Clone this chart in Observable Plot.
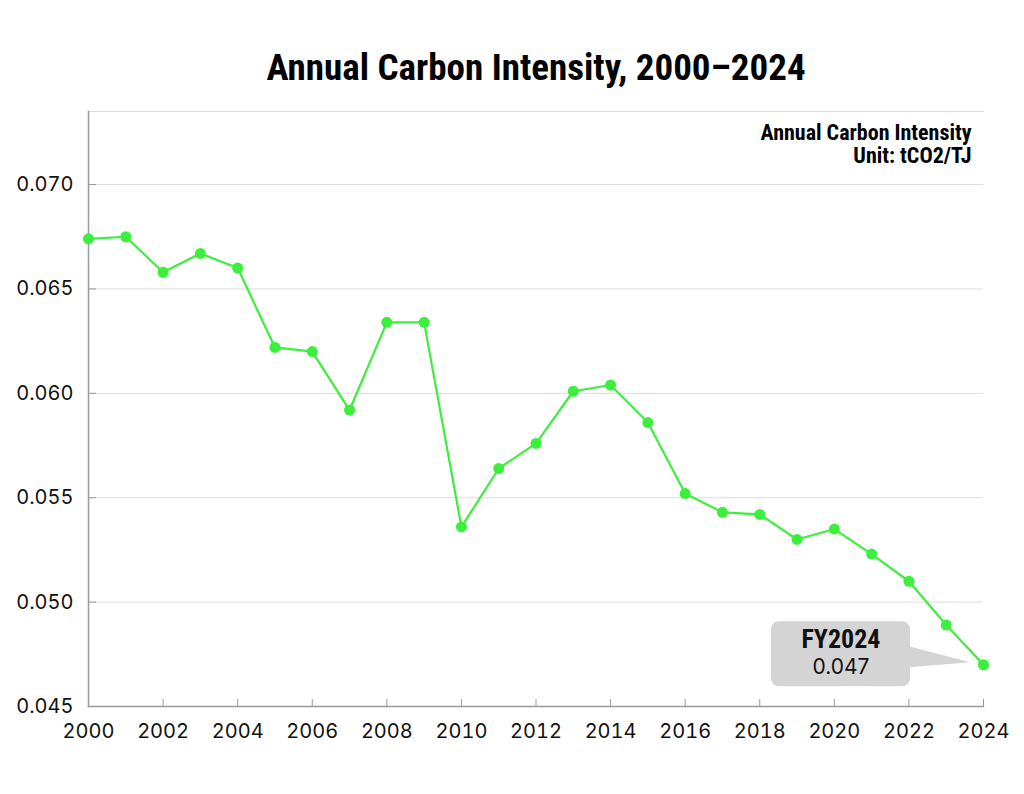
<!DOCTYPE html>
<html><head><meta charset="utf-8">
<script src="https://cdn.jsdelivr.net/npm/d3@7"></script>
<script src="https://cdn.jsdelivr.net/npm/@observablehq/plot@0.6"></script>
<style>
html,body{margin:0;padding:0;background:#fff;}
#chart svg{display:block;}
</style></head><body><div id="chart"></div>
<script>
const years = [2000, 2001, 2002, 2003, 2004, 2005, 2006, 2007, 2008, 2009, 2010, 2011, 2012,
               2013, 2014, 2015, 2016, 2017, 2018, 2019, 2020, 2021, 2022, 2023, 2024];
const values = [0.0674, 0.0675, 0.0658, 0.0667, 0.0660, 0.0622, 0.0620, 0.0592, 0.0634, 0.0634,
                0.0536, 0.0564, 0.0576, 0.0601, 0.0604, 0.0586, 0.0552, 0.0543, 0.0542, 0.0530,
                0.0535, 0.0523, 0.0510, 0.0489, 0.0470];
const xTicks = [2000, 2002, 2004, 2006, 2008, 2010, 2012, 2014, 2016, 2018, 2020, 2022, 2024];
const yTicks = [0.045, 0.050, 0.055, 0.060, 0.065, 0.070];
const chartTitle = "Annual Carbon Intensity, 2000–2024";
const seriesName = "Annual Carbon Intensity";
const unitLabel = "Unit: tCO2/TJ";
const calloutLabel = "FY2024";

const data = years.map((year, i) => ({year, value: values[i]}));
const last = data[data.length - 1];
const condensed = "'Liberation Sans Narrow','Roboto Condensed','DejaVu Sans Condensed',sans-serif";
const green = "#3def3d";
const fmt = d3.format(".3f");

const callout = Plot.dot([last], {
  x: "year", y: "value",
  render(index, scales, channels) {
    const i = index[0];
    const px = channels.x[i], py = channels.y[i];
    const g = d3.create("svg:g");
    g.append("path")
      .attr("d", `M${px - 74},${py - 18}L${px - 13},${py - 2}L${px - 74},${py + 3}Z`)
      .attr("fill", "#d4d4d4");
    g.append("rect").attr("x", px - 212).attr("y", py - 43).attr("width", 139).attr("height", 65)
      .attr("rx", 8).attr("fill", "#d4d4d4");
    g.append("text").attr("x", px - 142).attr("y", py - 16).attr("text-anchor", "middle")
      .attr("font-family", condensed).attr("font-weight", "bold").attr("font-size", 26)
      .attr("fill", "#111").text(calloutLabel);
    g.append("text").attr("x", px - 142).attr("y", py + 10).attr("text-anchor", "middle")
      .attr("font-family", "Inter, sans-serif").attr("font-size", 21)
      .attr("fill", "#111").text(fmt(last.value));
    return g.node();
  }
});

const chart = Plot.plot({
  width: 1024, height: 794,
  marginLeft: 88, marginRight: 41, marginTop: 111, marginBottom: 88,
  style: {fontFamily: "Inter, sans-serif", fontSize: "20px", color: "#111", background: "#fff"},
  x: {type: "linear", domain: [2000, 2024]},
  y: {domain: [0.045, 0.0735]},
  marks: [
    Plot.gridY(yTicks, {stroke: "#dddddd", strokeOpacity: 1}),
    Plot.frame({anchor: "top", stroke: "#dddddd", strokeOpacity: 1}),
    Plot.axisY(yTicks, {tickSize: -8, tickPadding: 23, tickFormat: fmt, label: null, stroke: "#999", fontSize: 20}),
    Plot.axisX(xTicks, {tickSize: -7, tickPadding: 24, tickFormat: "d", label: null, stroke: "#999", fontSize: 20}),
    Plot.frame({anchor: "left", stroke: "#999", strokeWidth: 1.5}),
    Plot.frame({anchor: "bottom", stroke: "#999", strokeWidth: 1.5}),
    Plot.line(data, {x: "year", y: "value", stroke: green, strokeWidth: 2.2}),
    callout,
    Plot.dot(data, {x: "year", y: "value", r: 5.5, fill: green}),
    Plot.text([chartTitle], {text: d => d, frameAnchor: "top", lineAnchor: "middle", dy: -43,
      fontFamily: condensed, fontWeight: "bold", fontSize: 37, fill: "#000"}),
    Plot.text([`${seriesName}\n${unitLabel}`], {text: d => d, frameAnchor: "top-right", dx: -12, dy: 12,
      textAnchor: "end", lineAnchor: "top", lineHeight: 1.05, fontFamily: condensed,
      fontWeight: "bold", fontSize: 22, fill: "#000"})
  ]
});
document.getElementById("chart").appendChild(chart);
</script>
</body></html>
